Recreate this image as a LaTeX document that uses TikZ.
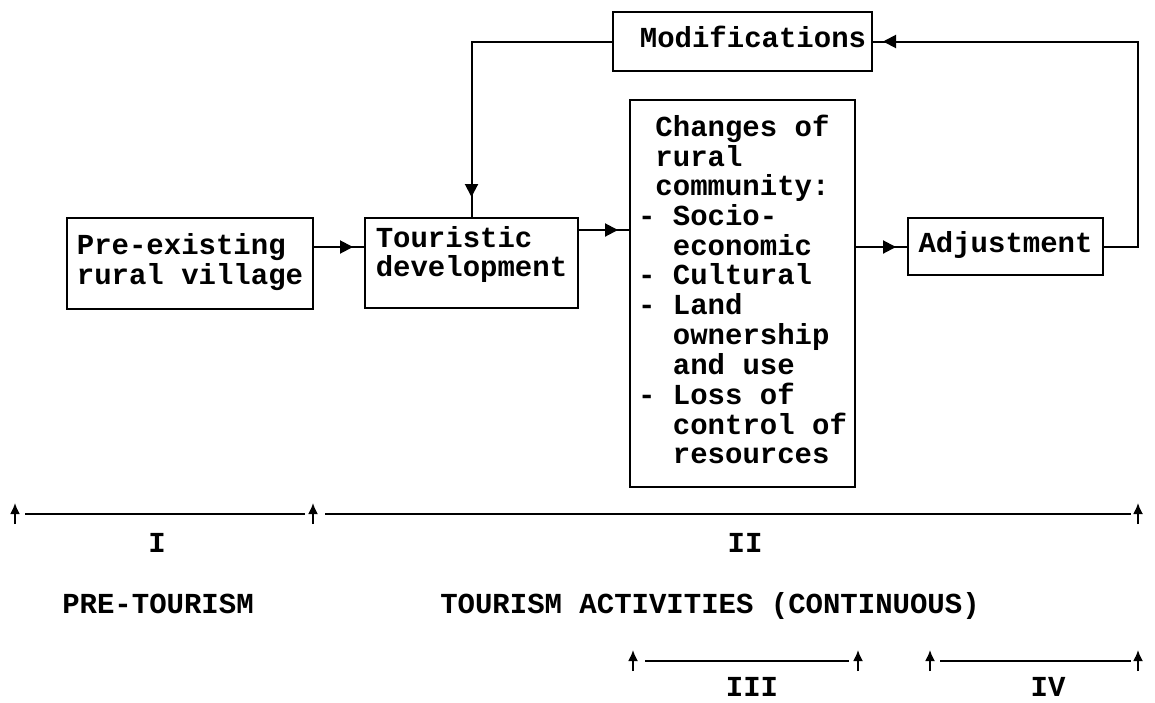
\documentclass[tikz,border=0pt]{standalone}
\usepackage{fontspec}
\setmonofont{Liberation Mono}
\usepackage{tikz}
\usetikzlibrary{arrows.meta, positioning, decorations.markings}
\newcommand{\figfont}{\ttfamily\bfseries\fontsize{14.5pt}{14.5pt}\selectfont}
\newcommand{\boxtext}[2][@{}l@{}]{\begin{tabular}[b]{#1}#2\end{tabular}}

\begin{document}
\begin{tikzpicture}[
    x=0.5pt, y=-0.5pt,
    box/.style={draw, line width=1.3pt, outer sep=0pt, inner sep=0pt, font=\figfont},
    flow/.style={line width=1pt, decoration={markings, mark=at position -#1 with {\arrow{Triangle[length=6.5pt, width=6.5pt]}}}, postaction={decorate}},
    flow/.default=6pt,
    period/.style={line width=1.2pt},
    uparrow/.style={-{Latex[length=5.5pt, width=5pt]}, line width=0.9pt},
    lbl/.style={font=\figfont, anchor=base, inner sep=0pt},
  ]
    \fill[white] (0,0) rectangle (1155,702);
    \useasboundingbox (0,0) rectangle (1155,702);

    \node[box, anchor=north west, minimum width=123pt, minimum height=45.5pt] (pre) at (67,218)
      {\boxtext{Pre-existing\\rural village}};
    \node[box, right=26pt of pre.north east, anchor=north west, minimum width=106.5pt, minimum height=45pt, text depth=11.65pt] (tour)
      {\boxtext{Touristic\\development}};
    \node[box, right=26pt of tour.north east, anchor=north west, yshift=59pt, minimum width=112.5pt, minimum height=193.5pt] (chg)
      {\boxtext{~Changes of\\~rural\\~community:\\- Socio-\\~~economic\\- Cultural\\- Land\\~~ownership\\~~and use\\- Loss of\\~~control of\\~~resources}};
    \node[box, right=26.5pt of chg.north east, anchor=north west, yshift=-59pt, minimum width=97.5pt, minimum height=28.5pt] (adj)
      {\boxtext{Adjustment}};
    \node[box, anchor=north west, minimum width=129.5pt, minimum height=29.5pt] (mod) at (613,12)
      {\boxtext[@{\hspace{10.5pt}}l@{}]{Modifications}};

    \draw[flow] (pre.east |- 0,247) -- (tour.west |- 0,247);
    \draw[flow] (tour.east |- 0,230) -- (chg.west |- 0,230);
    \draw[flow] (chg.east |- 0,247) -- (adj.west |- 0,247);
    \draw[flow=5.5pt] (adj.east) -- ++(35,0) |- (mod.east);
    \draw[flow=10.5pt] (mod.west) -| (tour.north);

    % stages
    \draw[period] (25,514) -- (305,514);
    \draw[period] (325,514) -- (1131,514);
    \draw[period] (645,661) -- (849,661);
    \draw[period] (940,661) -- (1131,661);
    \foreach \x/\y in {15/514, 313/514, 1138/514, 633/661, 858/661, 930/661, 1138/661}
      \draw[uparrow] (\x,\y+10) -- (\x,\y-11);

    \node[lbl] (one) at (157,552) {I};
    \node[lbl] (two) at (745,552) {II};
    \node[lbl] (pretour) at (158,613) {PRE-TOURISM};
    \node[lbl] (activ) at (710,613) {TOURISM ACTIVITIES (CONTINUOUS)};
    \node[lbl] (three) at (752,696) {III};
    \node[lbl] (four) at (1048,696) {IV};
\end{tikzpicture}
\end{document}
